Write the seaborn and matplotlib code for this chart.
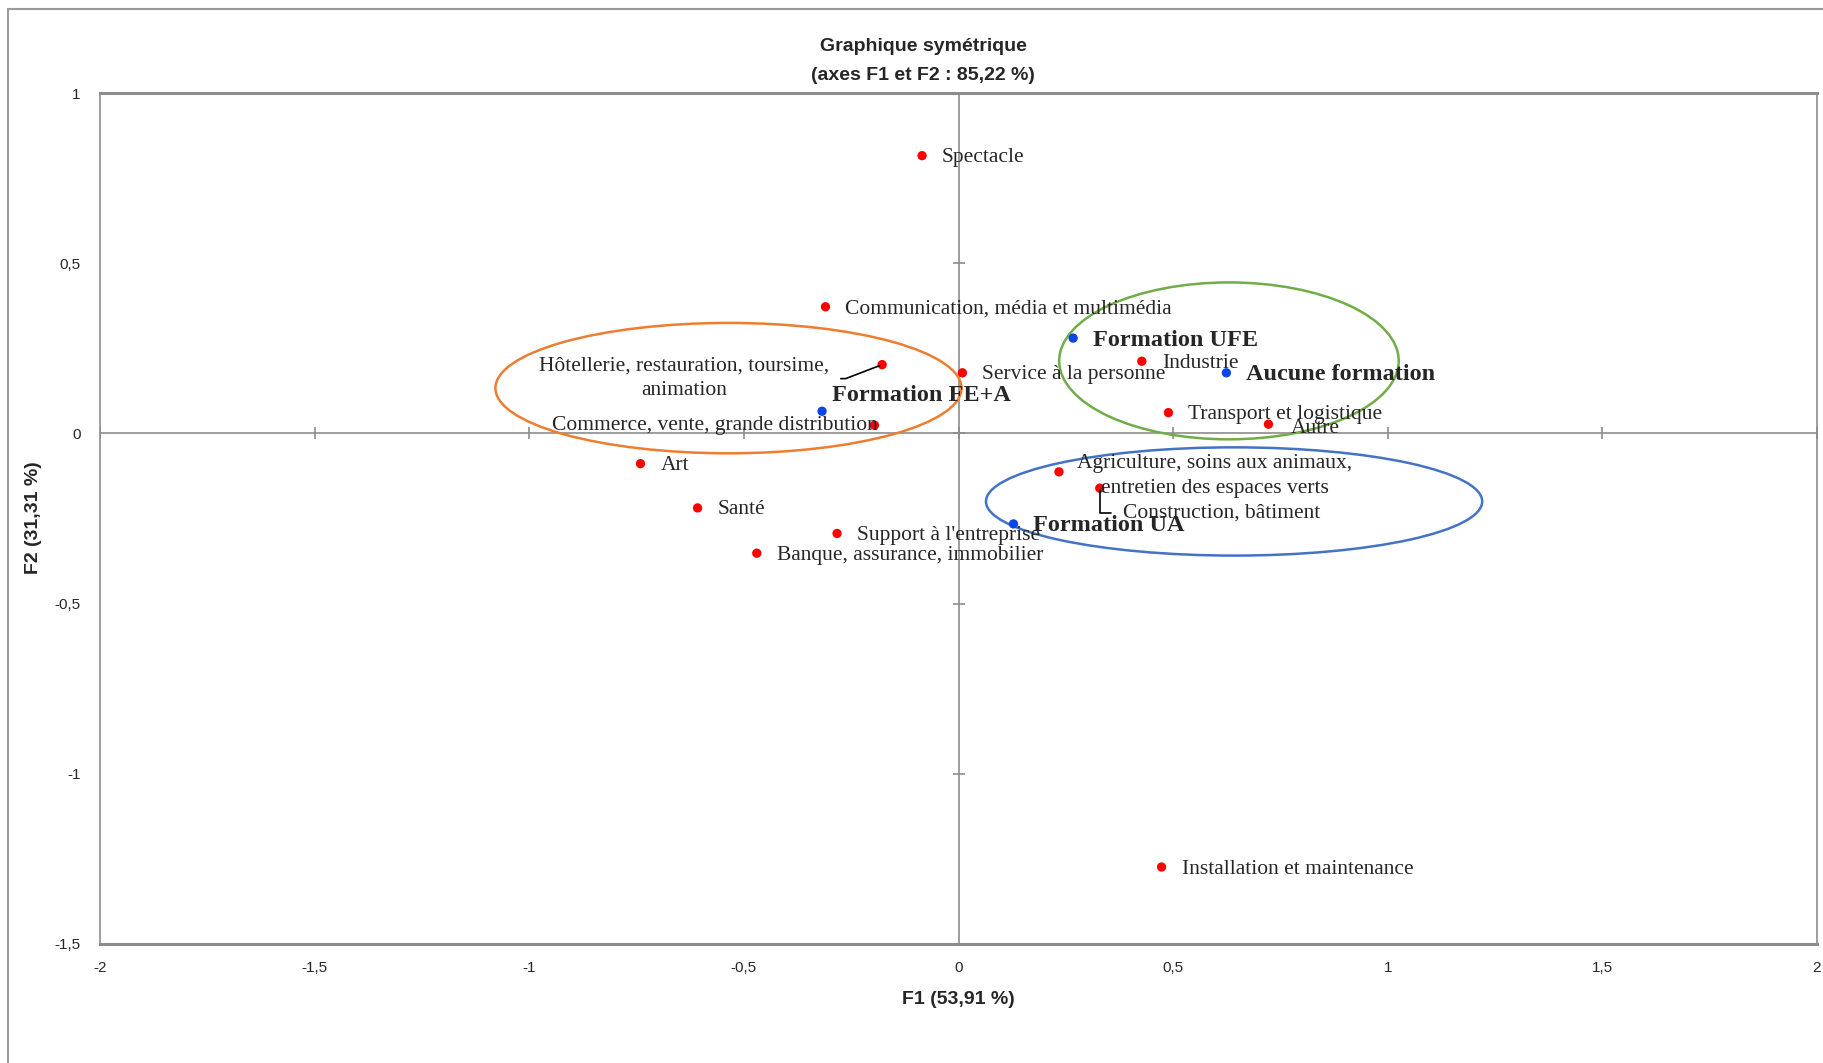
import pandas as pd
import matplotlib
matplotlib.use("Agg")
import matplotlib.pyplot as plt
import seaborn as sns
from matplotlib.patches import Ellipse, Rectangle

# modalités (secteurs) - red points
modalites = [
    "Spectacle",
    "Communication, média et multimédia",
    "Hôtellerie, restauration, toursime,\nanimation",
    "Commerce, vente, grande distribution",
    "Service à la personne",
    "Industrie",
    "Transport et logistique",
    "Autre",
    "Art",
    "Agriculture, soins aux animaux,\nentretien des espaces verts",
    "Construction, bâtiment",
    "Santé",
    "Support à l'entreprise",
    "Banque, assurance, immobilier",
    "Installation et maintenance",
]
f1_mod = [-0.085, -0.31, -0.178, -0.196, 0.009, 0.427, 0.489, 0.722, -0.741,
          0.234, 0.329, -0.608, -0.283, -0.47, 0.473]
f2_mod = [0.816, 0.372, 0.202, 0.024, 0.178, 0.212, 0.061, 0.027, -0.089,
          -0.113, -0.161, -0.219, -0.294, -0.352, -1.274]

# formations - blue points
formations = ["Formation UFE", "Aucune formation", "Formation FE+A", "Formation UA"]
f1_form = [0.267, 0.624, -0.318, 0.128]
f2_form = [0.28, 0.178, 0.065, -0.266]

# groupings drawn as ellipses
ellipse_x = [-0.536, 0.63, 0.642]
ellipse_y = [0.133, 0.213, -0.2]
ellipse_w = [1.086, 0.791, 1.156]
ellipse_h = [0.383, 0.461, 0.318]
ellipse_colors = ["#ED7D31", "#70AD47", "#4472C4"]

xticks = [-2, -1.5, -1, -0.5, 0, 0.5, 1, 1.5, 2]
yticks = [-1.5, -1, -0.5, 0, 0.5, 1]


def fr(v):
    return ("%g" % v).replace(".", ",")


df = pd.DataFrame({
    "F1": f1_mod + f1_form,
    "F2": f2_mod + f2_form,
    "label": modalites + formations,
    "type": ["mod"] * len(modalites) + ["form"] * len(formations),
})

sns.set_style("white")
narrow = ["Liberation Sans Narrow", "Liberation Sans", "DejaVu Sans"]
serif = ["Liberation Serif", "DejaVu Serif"]

fig = plt.figure(figsize=(18.23, 10.63), dpi=100)
ax = fig.add_axes([0.0549, 0.112, 0.9418, 0.8005])

# outer chart border
fig.patches.append(Rectangle((8 / 1823, -0.05), 1.1, 1.05 - 9 / 1063, transform=fig.transFigure,
                             fill=False, edgecolor="#9a9a9a", lw=1.5, zorder=0))

ax.axhline(0, color="#8c8c8c", lw=1.2, zorder=1)
ax.axvline(0, color="#8c8c8c", lw=1.2, zorder=1)
ax.plot(xticks, [0] * len(xticks), ls="none", marker="|", ms=9, color="#8c8c8c", mew=1.2, zorder=1)
ax.plot([0] * len(yticks), yticks, ls="none", marker="_", ms=9, color="#8c8c8c", mew=1.2, zorder=1)

sns.scatterplot(data=df, x="F1", y="F2", hue="type",
                palette={"mod": "#ff0000", "form": "#0a46e6"},
                s=45, edgecolor="none", legend=False, ax=ax, zorder=3)

for cx, cy, w, h, c in zip(ellipse_x, ellipse_y, ellipse_w, ellipse_h, ellipse_colors):
    ax.add_patch(Ellipse((cx, cy), w, h, fill=False, edgecolor=c, lw=1.8, zorder=2))

# label placement (offset pixels)
special = {
    "Autre": dict(xytext=(22, -4)),
    "Formation FE+A": dict(xytext=(10, 16)),
    "Commerce, vente, grande distribution": dict(xytext=(3, 0), ha="right"),
    "Hôtellerie, restauration, toursime,\nanimation": dict(
        xytext=(-198, -14), ha="center",
        arrowprops=dict(arrowstyle="-", color="black", lw=1.2, relpos=(1, 0.5),
                        shrinkA=6, shrinkB=2,
                        connectionstyle="angle,angleA=0,angleB=21,rad=0")),
    "Agriculture, soins aux animaux,\nentretien des espaces verts": dict(xytext=(156, -4), ha="center"),
    "Construction, bâtiment": dict(
        xytext=(23, -25),
        arrowprops=dict(arrowstyle="-", color="black", lw=1.2, relpos=(0, 0.5),
                        shrinkA=6, shrinkB=1,
                        connectionstyle="angle,angleA=0,angleB=90,rad=0")),
}

for _, row in df.iterrows():
    opts = dict(xytext=(20, -2), ha="left")
    opts.update(special.get(row["label"], {}))
    bold = row["type"] == "form"
    ax.annotate(row["label"], (row["F1"], row["F2"]), textcoords="offset pixels",
                va="center", multialignment="center", linespacing=1.4,
                fontsize=17.5 if bold else 15.5,
                fontweight="bold" if bold else "normal",
                family=serif, zorder=4, **opts)

ax.set_xlim(-2, 2)
ax.set_ylim(-1.5, 1)
ax.set_xticks(xticks)
ax.set_yticks(yticks)
ax.set_xticklabels([fr(v) for v in xticks], family=narrow, fontsize=11)
ax.set_yticklabels([fr(v) for v in yticks], family=narrow, fontsize=11)
ax.tick_params(length=0, pad=14)
ax.tick_params(axis="x", pad=12)

for side, sp in ax.spines.items():
    sp.set_color("#8c8c8c")
    sp.set_linewidth(2.2 if side in ("top", "bottom") else 1.2)
    sp.set_zorder(1)

ax.set_xlabel("")
ax.set_ylabel("")
fig.text(0.5 * (100 + 1817) / 1823, 1 - 1000 / 1063, "F1 (53,91 %)", ha="center", va="center",
         fontsize=14, fontweight="bold", family=narrow)
fig.text(33 / 1823, 1 - 518 / 1063, "F2 (31,31 %)", ha="center", va="center", rotation=90,
         fontsize=14, fontweight="bold", family=narrow)
fig.text(923 / 1823, 1 - 61 / 1063, "Graphique symétrique\n(axes F1 et F2 : 85,22 %)",
         ha="center", va="center", fontsize=14, fontweight="bold", family=narrow,
         linespacing=1.9)

fig.savefig("out.png", dpi=100, facecolor="white")
